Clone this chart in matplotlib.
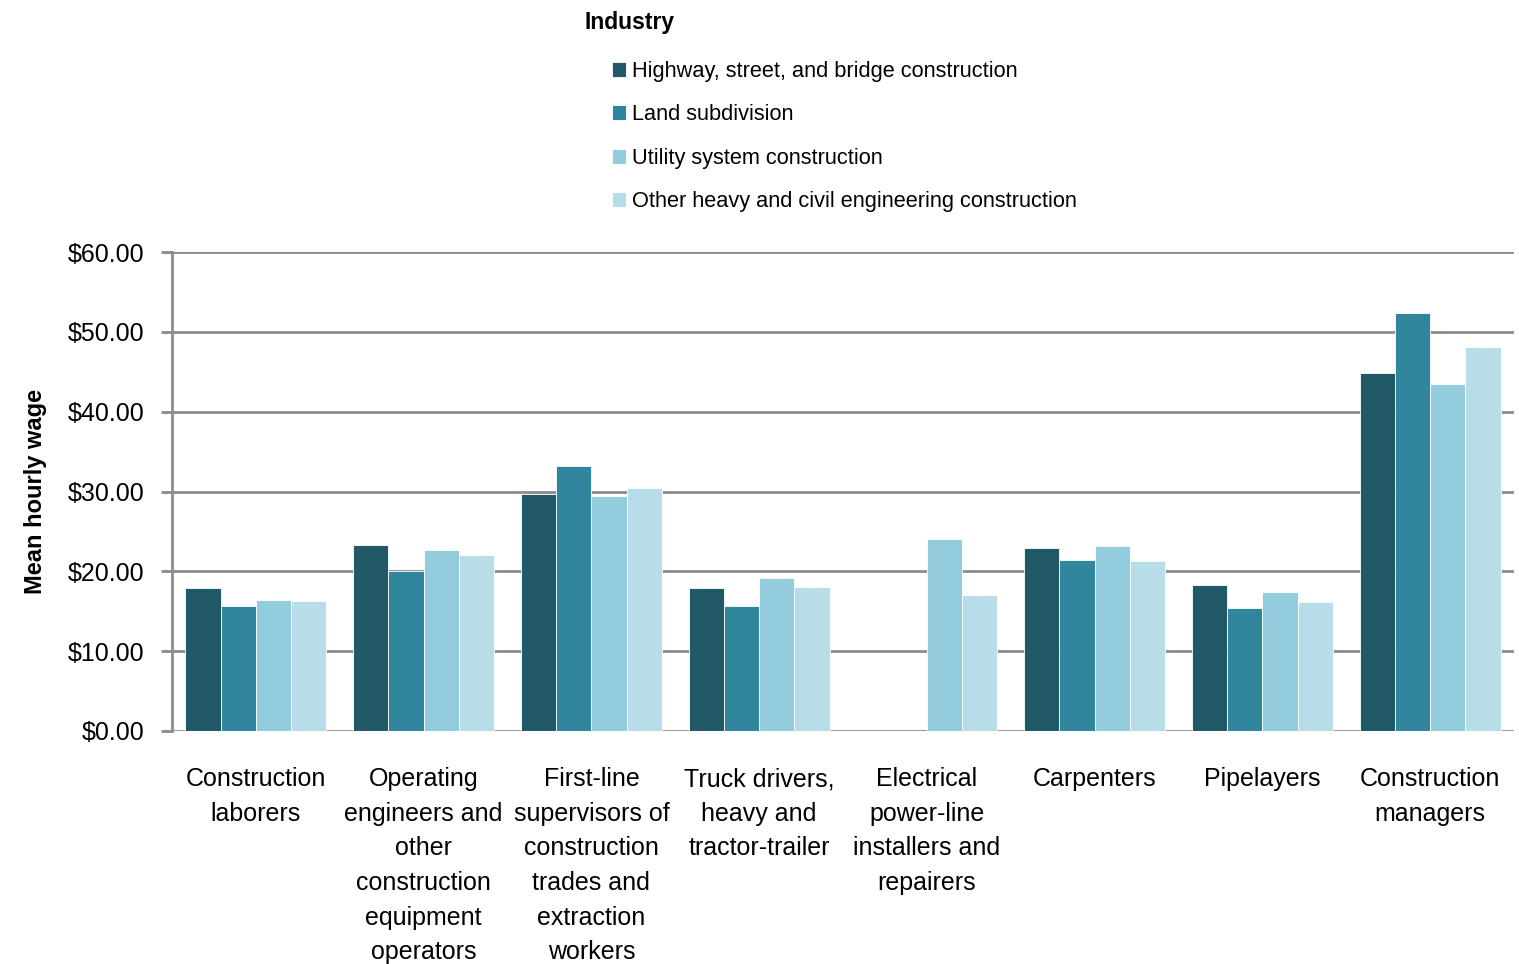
import matplotlib
matplotlib.use("Agg")
import matplotlib.pyplot as plt
import numpy as np
from matplotlib import font_manager
from matplotlib.ticker import FuncFormatter

names = {f.name for f in font_manager.fontManager.ttflist}
fam = "Liberation Sans Narrow" if "Liberation Sans Narrow" in names else "Liberation Sans"
plt.rcParams["font.family"] = [fam, "DejaVu Sans"]

categories = ["Construction\nlaborers",
              "Operating\nengineers and\nother\nconstruction\nequipment\noperators",
              "First-line\nsupervisors of\nconstruction\ntrades and\nextraction\nworkers",
              "Truck drivers,\nheavy and\ntractor-trailer",
              "Electrical\npower-line\ninstallers and\nrepairers",
              "Carpenters",
              "Pipelayers",
              "Construction\nmanagers"]
industries = ["Highway, street, and bridge construction",
              "Land subdivision",
              "Utility system construction",
              "Other heavy and civil engineering construction"]
highway = [17.9, 23.3, 29.7, 17.9, np.nan, 22.9, 18.3, 44.8]
land = [15.7, 20.0, 33.2, 15.7, np.nan, 21.4, 15.4, 52.4]
utility = [16.4, 22.7, 29.4, 19.2, 24.1, 23.2, 17.4, 43.5]
other = [16.3, 22.1, 30.4, 18.0, 17.0, 21.3, 16.2, 48.1]
colors = ["#215968", "#31859C", "#93CDDD", "#B7DEE8"]

fig = plt.figure(figsize=(15.19, 9.64), dpi=100)
ax = fig.add_axes([172 / 1519, 1 - 731 / 964, (1514 - 172) / 1519, (731 - 252) / 964])

x = np.arange(len(categories))
w = 0.21
for i, (vals, col, lab) in enumerate(zip([highway, land, utility, other], colors, industries)):
    ax.bar(x + (i - 1.5) * w, vals, w, color=col, label=lab,
           edgecolor="white", linewidth=0.6, zorder=3)

ax.set_xlim(-0.5, len(categories) - 0.5)
ax.set_ylim(0, 60)
ax.set_yticks(range(0, 61, 10))
ax.yaxis.set_major_formatter(FuncFormatter(lambda v, p: "${:.2f}".format(v)))
ax.grid(axis="y", color="#8c8c8c", linewidth=2, zorder=1)
ax.set_xticks(x)
ax.set_xticklabels(categories, fontsize=18, linespacing=1.56, va="top")
ax.tick_params(axis="x", length=0, pad=26)
ax.tick_params(axis="y", labelsize=18, length=8, width=2, color="#8c8c8c", pad=12)
for s in ["top", "right"]:
    ax.spines[s].set_visible(False)
ax.spines["bottom"].set_visible(False)
ax.spines["left"].set_color("#8c8c8c")
ax.spines["left"].set_linewidth(2)
ax.set_ylabel("Mean hourly wage", fontsize=17, fontweight="bold")
ax.yaxis.set_label_coords(-0.0935, 0.5)

fig.text(584 / 1519, 1 - 22 / 964, "Industry", fontsize=16.5, fontweight="bold",
         ha="left", va="center")
leg = ax.legend(loc="upper left", bbox_to_anchor=((612 - 172) / 1342, 1 + (252 - 61) / 479),
                frameon=False, fontsize=15.7, handlelength=0.66, handleheight=0.66,
                handletextpad=0.25, labelspacing=1.03, borderaxespad=0, borderpad=0)

fig.savefig("out.png", dpi=100)
